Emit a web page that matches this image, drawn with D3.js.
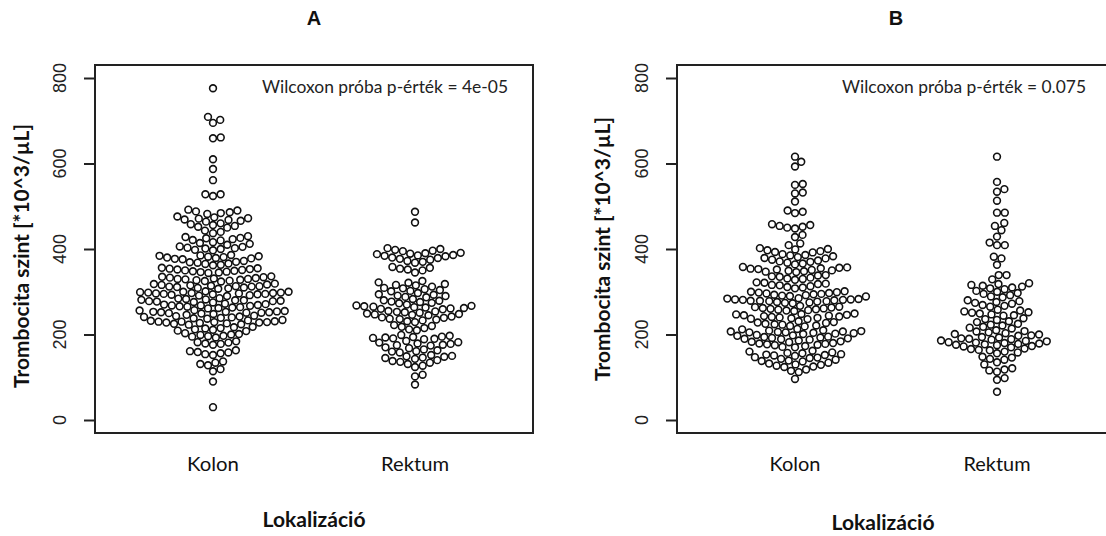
<!DOCTYPE html>
<html><head><meta charset="utf-8">
<script src="https://cdn.jsdelivr.net/npm/d3@7"></script>
<style>body{margin:0;background:#fff} svg{display:block}</style>
</head><body>
<svg id="chart" width="1106" height="536"></svg>
<script>
// ---------------- data ----------------
const categories = ["Kolon", "Rektum"];
const yTicks = [0, 200, 400, 600, 800];
const panelTitles = ["A", "B"];
const pValueLabels = ["Wilcoxon próba p-érték = 4e-05", "Wilcoxon próba p-érték = 0.075"];
const xAxisTitle = "Lokalizáció";
const yAxisTitle = "Trombocita szint [*10^3/µL]";

const kolonA = [30, 90, 114, 119, 128, 131, 134, 137,
  152, 154, 156, 158, 159, 161, 163,
  176, 178, 179, 181, 182, 184,
  193, 195, 196, 197, 199, 200, 201, 203,
  208, 209, 211, 212, 214, 215, 217, 218,
  223, 224, 225, 226, 227, 228, 228, 229, 229, 230, 230, 231, 232, 233, 234,
  237, 238, 239, 240, 241, 242, 243, 244, 246,
  248, 249, 250, 251, 251, 252, 252, 253, 253, 254, 255, 256, 257,
  261, 262, 263, 264, 265, 266, 267, 268, 268, 269, 270, 271, 272,
  275, 276, 277, 278, 278, 279, 280, 280, 281, 282, 283, 284, 285,
  290, 291, 292, 293, 294, 294, 295, 295, 296, 296, 297, 297, 298, 298, 299, 300, 300, 301,
  307, 308, 309, 310, 311, 312, 312, 313, 313, 314, 315, 316, 317, 318, 319,
  324, 325, 326, 327, 328, 329, 330, 330, 331, 332, 333, 334, 335, 336,
  344, 345, 346, 347, 348, 349, 350, 351, 352, 353, 354, 355, 356,
  362, 363, 365, 366, 368, 369, 370, 372,
  376, 377, 378, 379, 380, 381, 382, 383, 384, 385, 386,
  397, 398, 400, 401, 402, 403, 405, 406,
  410, 412, 414, 416,
  420, 421, 423, 425, 426, 428, 430,
  437, 440, 443,
  450, 452, 454, 456, 458, 460,
  464, 466, 468, 469, 471, 472, 474, 476,
  482, 484, 486, 488, 490, 492,
  524, 528, 528, 561, 587, 610, 659, 661, 695, 702, 709, 776];

const rektumA = [83, 102, 106, 124, 127, 131, 134, 136, 138, 140,
  143, 145, 146, 148, 149, 150, 152,
  158, 160, 161, 163, 165, 168, 170,
  174, 175, 176, 178, 179, 181, 182, 185,
  189, 190, 191, 192, 193, 194, 195, 197, 199,
  210, 212, 215, 218, 220, 222,
  229, 231, 233, 235, 236, 237, 239, 240, 242,
  245, 246, 247, 248, 249, 251, 252, 253, 254, 255,
  259, 260, 261, 262, 263, 264, 265, 266, 267, 268, 270,
  273, 274, 276, 277, 279, 280, 283,
  287, 288, 290, 291, 293, 294, 297,
  301, 302, 304, 306, 308, 309, 312,
  315, 316, 318, 321, 322, 325,
  345, 350, 352, 354, 356, 358,
  368, 370, 372, 375, 377, 379, 380,
  383, 384, 385, 386, 388, 389, 390, 391,
  395, 396, 398, 400, 402,
  462, 487];

const kolonB = [96, 112, 115, 118,
  124, 125, 127, 129, 130, 132, 134,
  137, 138, 139, 141, 143, 145, 146, 147,
  150, 151, 152, 153, 154, 156, 157, 158, 160, 162,
  170, 171, 173, 175, 176, 177, 178, 179, 180, 182, 183, 184,
  186, 188, 189, 190, 191, 192, 193, 194, 195, 197, 198, 199,
  201, 202, 203, 204, 205, 205, 206, 207, 207, 208, 209, 210, 212, 213,
  219, 220, 221, 223, 224, 225, 227, 228, 229, 231,
  236, 237, 238, 239, 240, 241, 242, 243, 244, 245, 246, 247, 248, 249,
  255, 256, 257, 258, 259, 260, 261, 262, 263, 264, 265, 267,
  273, 274, 275, 276, 277, 278, 278, 279, 279, 280, 281, 281, 282, 282, 283, 284, 285,
  289, 290, 291, 292, 293, 294, 295, 296, 297, 298, 299, 300, 301,
  308, 310, 311, 313, 315, 316, 318, 319, 321, 322,
  328, 330, 331, 333, 335, 336, 338, 339,
  346, 347, 348, 349, 350, 351, 352, 353, 354, 355, 356, 357, 358,
  364, 366, 368, 370, 371, 373, 375,
  378, 379, 381, 383, 385, 386, 388,
  392, 393, 395, 397, 399, 400, 402,
  409, 413, 428, 433,
  448, 450, 452, 454, 456, 458,
  484, 487, 490, 511, 530, 532, 550, 552, 593, 604, 616];

const rektumB = [66, 94, 98, 113, 116, 118, 121, 130, 135,
  141, 143, 146, 148,
  156, 158, 160, 163, 164, 166, 167, 170,
  172, 173, 175, 176, 177, 178, 179, 180, 181, 182, 184,
  185, 186, 188, 189, 190, 191, 193, 194,
  197, 198, 200, 201, 203, 205, 207, 208, 210,
  214, 216, 218, 221, 223, 225,
  229, 231, 234, 236, 238,
  244, 245, 247, 249, 251, 252, 254, 256, 258,
  265, 267, 269, 272, 274, 276, 278, 280,
  287, 289, 292, 295, 297, 300, 302,
  306, 308, 310, 312, 314, 316, 318, 320,
  329, 339, 339, 363, 378, 382,
  409, 409, 415, 429, 444, 454, 461,
  485, 485, 513, 534, 540, 557, 616];

const panels = [
  {series: [kolonA, rektumA], title: panelTitles[0], pLabel: pValueLabels[0]},
  {series: [kolonB, rektumB], title: panelTitles[1], pLabel: pValueLabels[1]}
];

// ---------------- layout ----------------
const layout = [
  {left: 95, right: 533, top: 65, bottom: 433, tickLabelX: 60, yTitleX: 22, yTitleY: 256,
   pX: 262, pW: 246, xTitleX: 314, xTitleY: 527, xTitleW: 103, titleX: 314,
   catW: [52, 68]},
  {left: 677, right: 1115, top: 65, bottom: 433, tickLabelX: 642, yTitleX: 603, yTitleY: 249,
   pX: 842, pW: 244, xTitleX: 883, xTitleY: 530, xTitleW: 103, titleX: 896,
   catW: [51, 67]}
];

const svg = d3.select("#chart");
const D = 7.8;     // point spacing (px)
const R = 3.4;     // circle radius

function swarm(ys, order) {
  const placed = [];
  const xs = new Array(ys.length);
  for (const i of order) {
    const y = ys[i];
    const cands = [0];
    const near = [];
    for (const p of placed) {
      const dy = Math.abs(p.y - y);
      if (dy < D) {
        near.push(p);
        const dx = Math.sqrt(D * D - dy * dy);
        cands.push(p.x + dx, p.x - dx);
      }
    }
    let best = null;
    for (const c of cands) {
      if (best !== null && Math.abs(c) >= Math.abs(best)) continue;
      let ok = true;
      for (const p of near) {
        const dx = c - p.x, dy = p.y - y;
        if (dx * dx + dy * dy < D * D - 1e-6) { ok = false; break; }
      }
      if (ok) best = c;
    }
    xs[i] = best;
    placed.push({x: best, y: y});
  }
  return xs;
}

panels.forEach((panel, pi) => {
  const L = layout[pi];
  const g = svg.append("g");
  const y = d3.scaleLinear().domain([0, 800]).range([420, 78]);
  const x = d3.scalePoint().domain(categories)
    .range([L.left + 118, L.right - 118]);

  const clipId = "clip" + pi;
  svg.append("clipPath").attr("id", clipId).append("rect")
    .attr("x", L.left).attr("y", L.top)
    .attr("width", L.right - L.left).attr("height", L.bottom - L.top);

  panel.series.forEach((vals, ci) => {
    const ys = vals.map(v => y(v));
    const order = vals.map((v, i) => i).sort((a, b) => vals[a] - vals[b]);
    const xs = swarm(ys, order);
    g.append("g").attr("clip-path", `url(#${clipId})`)
      .selectAll("circle").data(vals).join("circle")
      .attr("cx", (d, i) => x(categories[ci]) + xs[i])
      .attr("cy", d => y(d))
      .attr("r", R)
      .attr("fill", "#fff")
      .attr("stroke", "#111")
      .attr("stroke-width", 1.6);
  });

  g.append("rect")
    .attr("x", L.left).attr("y", L.top)
    .attr("width", L.right - L.left).attr("height", L.bottom - L.top)
    .attr("fill", "none").attr("stroke", "#222").attr("stroke-width", 2);

  const axis = d3.axisLeft(y).tickValues(yTicks).tickSize(11).tickFormat("");
  const ag = g.append("g").attr("transform", `translate(${L.left},0)`).call(axis);
  ag.select(".domain").remove();
  ag.selectAll(".tick line").attr("stroke", "#222").attr("stroke-width", 2);
  g.selectAll(".ytl").data(yTicks).join("text")
    .attr("class", "ytl")
    .attr("transform", d => `translate(${L.tickLabelX},${y(d)}) rotate(-90)`)
    .attr("text-anchor", "middle").attr("dy", "0.36em")
    .attr("font-family", "Liberation Sans, Arial, sans-serif")
    .attr("font-size", 18).attr("fill", "#222")
    .text(d => d);

  g.selectAll(".cat").data(categories).join("text")
    .attr("class", "cat")
    .attr("x", d => x(d)).attr("y", 471)
    .attr("text-anchor", "middle")
    .attr("font-family", "Lato, sans-serif").attr("font-size", 20)
    .attr("fill", "#111")
    .attr("textLength", (d, i) => L.catW[i]).attr("lengthAdjust", "spacingAndGlyphs")
    .text(d => d);

  g.append("text").attr("x", L.pX).attr("y", 93)
    .attr("font-family", "Lato, sans-serif").attr("font-size", 17)
    .attr("fill", "#222")
    .attr("textLength", L.pW).attr("lengthAdjust", "spacingAndGlyphs")
    .text(panel.pLabel);

  g.append("text").attr("x", L.titleX).attr("y", 25)
    .attr("text-anchor", "middle")
    .attr("font-family", "Liberation Sans, Arial, sans-serif")
    .attr("font-weight", "bold").attr("font-size", 20).attr("fill", "#111")
    .text(panel.title);

  g.append("text").attr("x", L.xTitleX).attr("y", L.xTitleY)
    .attr("text-anchor", "middle")
    .attr("font-family", "Lato, sans-serif").attr("font-weight", "bold")
    .attr("font-size", 20).attr("fill", "#111")
    .attr("textLength", L.xTitleW).attr("lengthAdjust", "spacingAndGlyphs")
    .text(xAxisTitle);

  g.append("text")
    .attr("transform", `translate(${L.yTitleX},${L.yTitleY}) rotate(-90)`)
    .attr("text-anchor", "middle").attr("dy", "0.36em")
    .attr("font-family", "Lato, sans-serif").attr("font-weight", "bold")
    .attr("font-size", 20).attr("fill", "#111")
    .attr("textLength", 264).attr("lengthAdjust", "spacingAndGlyphs")
    .text(yAxisTitle);
});
</script>
</body></html>
